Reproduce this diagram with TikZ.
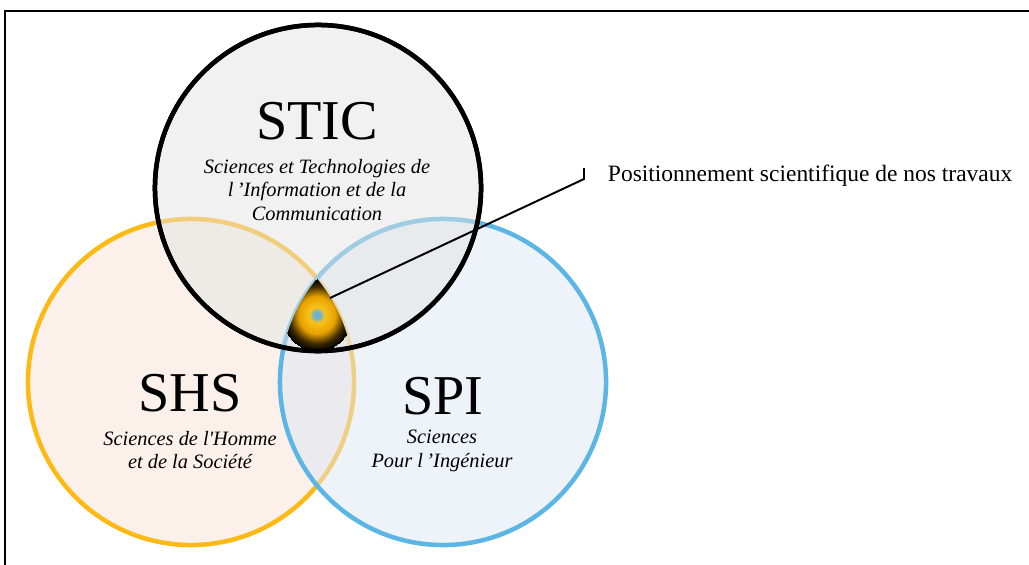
\documentclass[tikz,border=0pt]{standalone}
\usepackage{fontspec}
\setmainfont{Liberation Serif}
\definecolor{shsline}{HTML}{FFB914}
\definecolor{spiline}{HTML}{5BB5E5}
\definecolor{shsfill}{HTML}{F7E3D5}
\definecolor{spifill}{HTML}{DDE7F5}
\definecolor{sticfill}{HTML}{E3E3E3}
\definecolor{spotblue}{HTML}{6FB4CC}
\definecolor{spotgold}{HTML}{F8C21A}
\definecolor{spotorange}{HTML}{E8A200}
\pgfdeclareradialshading{spotshade}{\pgfpoint{0bp}{0bp}}{color(0bp)=(spotblue); color(2.5bp)=(spotblue); color(5.5bp)=(spotgold); color(13bp)=(spotorange); color(20bp)=(black!75!spotorange); color(25bp)=(black)}
\begin{document}
\begin{tikzpicture}[x=0.025cm,y=-0.025cm,
    area/.style={circle,minimum size=8.15cm,line width=3.2pt,fill opacity=0.5,draw opacity=1},
    title/.style={font=\fontsize{40}{44}\selectfont},
    subtitle/.style={align=center,font=\fontsize{14.5}{16.5}\selectfont\itshape}]
      \useasboundingbox (0,0) rectangle (1029,564);
      \draw[line width=1.1pt] (5,600) -- (5,11) -- (1100,11);
      % the three domains
      \node[area,draw=shsline,fill=shsfill] (shs) at (191,382) {};
      \node[area,draw=spiline,fill=spifill] (spi) at (443,382) {};
      \node[area,draw=black,fill=sticfill] (stic) at (318,188) {};
      % common part
      \begin{scope}
        \clip (shs.center) circle[radius=4.075cm];
        \clip (spi.center) circle[radius=4.075cm];
        \clip (stic.center) circle[radius=4.075cm];
        \shade[shading=spotshade] (282,279) rectangle (352,351);
      \end{scope}
      \draw[line width=3.2pt] (stic.center) circle[radius=4.075cm];
      \node[title] (stictitle) at (317,121) {STIC};
      \node[subtitle] (sticsub) at (317,190) {Sciences et Technologies de\\l\,’Information et de la\\Communication};
      \node[title] (shstitle) at (190,393) {SHS};
      \node[subtitle] (shssub) at (190,450) {Sciences de l\textquotesingle Homme\\et de la Société};
      \node[title] (spititle) at (443,396) {SPI};
      \node[subtitle] (spisub) at (442,451) {Sciences\\Pour l\,’Ingénieur};
      % pointer to the label
      \coordinate (spot) at (330,298);
      \coordinate (tick) at (584,179);
      \draw[line width=1.4pt] (spot) -- (tick) -- ++(0,-11);
      \node[anchor=west,font=\fontsize{16.7}{19}\selectfont] (label) at (603,176) {Positionnement scientifique de nos travaux};
    \end{tikzpicture}
\end{document}
